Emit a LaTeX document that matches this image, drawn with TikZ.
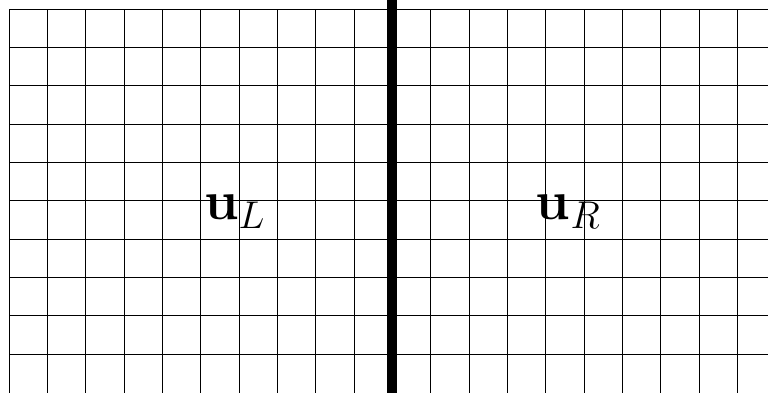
\documentclass[tikz,border=0pt]{standalone}
\usepackage{fix-cm}
\begin{document}
\begin{tikzpicture}[
  gridline/.style={line width=0.6pt, black},
  interface/.style={line width=7.2pt, black},
  lab/.style={inner sep=0pt, anchor=base west, font=\fontsize{41}{45}\selectfont}
]
\useasboundingbox (-0.235,0.008) rectangle (19.80,10.235);
\clip (-0.235,0.008) rectangle (19.80,10.235);
\foreach \x in {0,...,20} \draw[gridline] (\x,-0.5) -- (\x,10);
\foreach \y in {1,...,10} \draw[gridline] (0,\y) -- (21,\y);
\coordinate (top) at (10,10.3);
\coordinate (bot) at (10,-0.1);
\draw[interface] (bot) -- (top);
\node[lab] (uL) at (5.08,4.50) {$\mathbf{u}_L$};
\node[lab] (uR) at (13.74,4.50) {$\mathbf{u}_R$};
\end{tikzpicture}
\end{document}
